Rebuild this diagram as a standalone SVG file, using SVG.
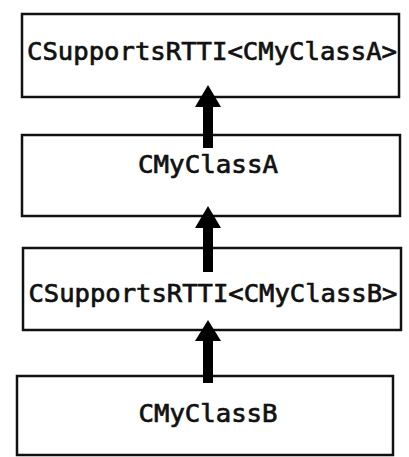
<svg xmlns="http://www.w3.org/2000/svg" width="409" height="457" viewBox="0 0 409 457">
<style>
.box{fill:#fff;stroke:#111;stroke-width:2.5}
.lbl{font-family:"DejaVu Sans Mono","Liberation Mono",monospace;font-size:25px;fill:#111;stroke:#111;stroke-width:0.7;text-anchor:middle}
.arr{fill:#000}
</style>
<rect width="409" height="457" fill="#fff"/>
<g id="node1"><rect class="box" x="22" y="14" width="377" height="83"/><text class="lbl" x="212" y="60" textLength="370" lengthAdjust="spacingAndGlyphs">CSupportsRTTI&lt;CMyClassA&gt;</text></g>
<g id="node2"><rect class="box" x="22" y="135" width="378" height="81"/><text class="lbl" x="208" y="173" textLength="140" lengthAdjust="spacingAndGlyphs">CMyClassA</text></g>
<g id="node3"><rect class="box" x="23" y="248" width="378" height="82"/><text class="lbl" x="213" y="302" textLength="369" lengthAdjust="spacingAndGlyphs">CSupportsRTTI&lt;CMyClassB&gt;</text></g>
<g id="node4"><rect class="box" x="17" y="376" width="376" height="79"/><text class="lbl" x="208" y="422" textLength="139" lengthAdjust="spacingAndGlyphs">CMyClassB</text></g>
<g id="connectors">
<path class="arr" d="M203 148 L203 107 L195 107 L208 85 L221 107 L213 107 L213 148 Z"/>
<path class="arr" d="M203 272 L203 228 L195 228 L208 206 L221 228 L213 228 L213 272 Z"/>
<path class="arr" d="M203 383 L203 341 L195 341 L208 320 L221 341 L213 341 L213 383 Z"/>
</g>
</svg>
